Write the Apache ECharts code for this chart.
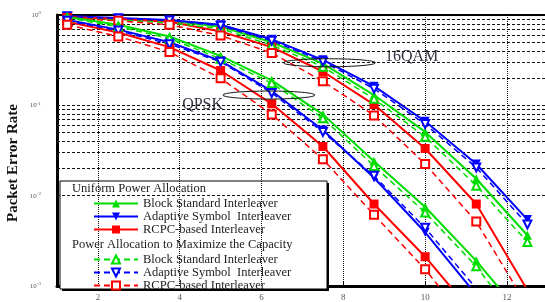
<!DOCTYPE html>
<html>
<head>
<meta charset="utf-8">
<script src="https://cdn.jsdelivr.net/npm/echarts@6/dist/echarts.min.js"></script>
<style>
html,body{margin:0;padding:0;background:#fff;}
#main{width:545px;height:302px;}
</style>
</head>
<body>
<div id="main"></div>
<script>
// SNR points (markers every 1.25)
var snr = [1.25, 2.5, 3.75, 5, 6.25, 7.5, 8.75, 10, 11.25, 12.5];

// 16QAM, uniform power allocation
var qamBlockUni = [0.951, 0.905, 0.862, 0.743, 0.499, 0.289, 0.130, 0.0508, 0.0154, 0.00365];
var qamAdaptUni = [0.975, 0.928, 0.883, 0.780, 0.538, 0.319, 0.163, 0.0667, 0.0224, 0.00543];
var qamRcpcUni  = [0.951, 0.905, 0.840, 0.656, 0.441, 0.237, 0.102, 0.0333, 0.00808, 0.0009];
// 16QAM, power allocation to maximize the capacity
var qamBlockMax = [0.928, 0.883, 0.820, 0.706, 0.463, 0.268, 0.118, 0.0449, 0.0129, 0.00307];
var qamAdaptMax = [0.960, 0.915, 0.870, 0.760, 0.520, 0.305, 0.153, 0.0620, 0.0205, 0.0048];
var qamRcpcMax  = [0.928, 0.862, 0.780, 0.593, 0.380, 0.185, 0.0774, 0.0224, 0.00516, 0.0006];

// QPSK, uniform power allocation
var qpskBlockUni = [0.951, 0.780, 0.579, 0.352, 0.189, 0.0794, 0.0241, 0.0075, 0.0019, 0.0004];
var qpskAdaptUni = [0.883, 0.689, 0.499, 0.311, 0.144, 0.0533, 0.0158, 0.00393, 0.0008, 0.00012];
var qpskRcpcUni  = [0.840, 0.640, 0.441, 0.243, 0.104, 0.0350, 0.00808, 0.00211, 0.00045, 0.00008];
// QPSK, power allocation to maximize the capacity
var qpskBlockMax = [0.928, 0.743, 0.551, 0.327, 0.176, 0.0719, 0.0213, 0.0065, 0.00165, 0.0003];
var qpskAdaptMax = [0.862, 0.672, 0.475, 0.303, 0.137, 0.0508, 0.0166, 0.0044, 0.00094, 0.0001];
var qpskRcpcMax  = [0.780, 0.579, 0.389, 0.199, 0.0794, 0.0253, 0.00615, 0.00153, 0.0003, 0.00005];

var xTicks = [2, 4, 6, 8, 10, 12];
var yGrid = [0.002, 0.003, 0.004, 0.005, 0.006, 0.007, 0.008, 0.009, 0.01,
             0.02, 0.03, 0.04, 0.05, 0.06, 0.07, 0.08, 0.09, 0.1,
             0.2, 0.3, 0.4, 0.5, 0.6, 0.7, 0.8, 0.9];

var namesUni = ['Uniform|Block Standard Interleaver', 'Uniform|Adaptive Symbol  Interleaver', 'Uniform|RCPC-based Interleaver'];
var namesMax = ['Max|Block Standard Interleaver', 'Max|Adaptive Symbol  Interleaver', 'Max|RCPC-based Interleaver'];

// annotation anchors (data coords)
var ellipses = [[7.66, 0.296], [6.18, 0.130]];
var labels = [['16QAM', 9.67, 0.344], ['QPSK', 4.56, 0.102]];

var GREEN = '#00dd00', BLUE = '#0000ff', RED = '#ff0000';

function pairs(vals){
	return snr.map(function(x, i){ return [x, vals[i]]; });
}
function curve(name, vals, color, symbol, rot, dashed){
	return {
		name: name,
		type: 'line',
		z: 5,
		data: pairs(vals),
		symbol: symbol,
		symbolSize: dashed ? 8 : 9,
		symbolRotate: rot,
		color: color,
		clip: true,
		lineStyle: {color: color, width: dashed ? 1.5 : 2, type: dashed ? [6, 4] : 'solid'},
		itemStyle: {color: color, borderColor: color, borderWidth: dashed ? 1.5 : 0},
		emphasis: {disabled: true},
		animation: false
	};
}

var series = [
	// 16QAM
	curve(namesUni[0], qamBlockUni, GREEN, 'triangle', 0, false),
	curve(namesUni[1], qamAdaptUni, BLUE, 'triangle', 180, false),
	curve(namesUni[2], qamRcpcUni, RED, 'rect', 0, false),
	curve(namesMax[0], qamBlockMax, GREEN, 'emptyTriangle', 0, true),
	curve(namesMax[1], qamAdaptMax, BLUE, 'emptyTriangle', 180, true),
	curve(namesMax[2], qamRcpcMax, RED, 'emptyRect', 0, true),
	// QPSK
	curve(namesUni[0], qpskBlockUni, GREEN, 'triangle', 0, false),
	curve(namesUni[1], qpskAdaptUni, BLUE, 'triangle', 180, false),
	curve(namesUni[2], qpskRcpcUni, RED, 'rect', 0, false),
	curve(namesMax[0], qpskBlockMax, GREEN, 'emptyTriangle', 0, true),
	curve(namesMax[1], qpskAdaptMax, BLUE, 'emptyTriangle', 180, true),
	curve(namesMax[2], qpskRcpcMax, RED, 'emptyRect', 0, true),
	// grid lines
	{
		name: 'hgrid', type: 'line', data: [], z: 1, silent: true,
		markLine: {
			silent: true, symbol: ['none', 'none'], animation: false,
			label: {show: false},
			lineStyle: {color: '#111', width: 1, type: [3, 2]},
			data: yGrid.map(function(v){ return {yAxis: v}; })
		}
	},
	{
		name: 'vgrid', type: 'line', data: [], z: 3, silent: true,
		markLine: {
			silent: true, symbol: ['none', 'none'], animation: false,
			label: {show: false},
			lineStyle: {color: '#111', width: 1, type: [1, 1]},
			data: xTicks.map(function(v){ return {xAxis: v}; })
		}
	}
];

var legendText = {fontFamily: 'Liberation Serif', fontSize: 12.5, color: '#222'};

var option = {
	animation: false,
	backgroundColor: '#fff',
	grid: {left: 57, top: 15, right: 0, bottom: 9},
	xAxis: [
		{
			type: 'value', min: 1, max: 12.93,
			axisLine: {lineStyle: {color: '#000', width: 3}},
			axisTick: {inside: true, length: 4, customValues: xTicks, lineStyle: {color: '#000'}},
			axisLabel: {customValues: xTicks, margin: 7, fontSize: 9, fontFamily: 'Liberation Serif', color: '#555'},
			splitLine: {show: false}
		},
		{
			type: 'value', min: 1, max: 12.93, position: 'top',
			axisLine: {lineStyle: {color: '#000', width: 2}},
			axisTick: {show: false}, axisLabel: {show: false}, splitLine: {show: false}
		}
	],
	yAxis: {
		type: 'log', logBase: 10, min: 0.001, max: 1,
		axisLine: {show: true, lineStyle: {color: '#000', width: 3}},
		axisTick: {show: false},
		splitLine: {show: false},
		axisLabel: {
			margin: 16,
			formatter: function(v){
				var e = Math.round(Math.log(v) / Math.LN10);
				return '{b|10}{s|' + e + '}';
			},
			rich: {
				b: {fontSize: 7, fontFamily: 'Liberation Serif', color: '#556'},
				s: {fontSize: 5, fontFamily: 'Liberation Serif', color: '#556', padding: [0, 0, 4, 0]}
			}
		}
	},
	legend: [
		{
			data: namesUni, orient: 'vertical', left: 88, top: 192, z: 8,
			itemWidth: 44, itemHeight: 10, itemGap: 0, selectedMode: false,
			formatter: function(n){ return n.split('|')[1]; },
			textStyle: legendText
		},
		{
			data: namesMax, orient: 'vertical', left: 88, top: 248, z: 8,
			itemWidth: 44, itemHeight: 10, itemGap: 0, selectedMode: false,
			formatter: function(n){ return n.split('|')[1]; },
			textStyle: legendText
		}
	],
	series: series
};

var chart = echarts.init(document.getElementById('main'));
chart.setOption(option);

function px(x, y){
	return chart.convertToPixel({gridIndex: 0}, [x, y]);
}

var elements = [
	// legend box with shadow
	{type: 'rect', z: 4, shape: {x: 62, y: 183, width: 267, height: 108}, style: {fill: '#000'}},
	{type: 'rect', z: 4, shape: {x: 60, y: 181, width: 267, height: 108}, style: {fill: '#fff', stroke: '#000', lineWidth: 1}},
	{type: 'text', z: 8, x: 72, y: 189, style: {text: 'Uniform Power Allocation', font: '12.5px "Liberation Serif"', fill: '#222', textVerticalAlign: 'middle'}},
	{type: 'text', z: 8, x: 72, y: 245, style: {text: 'Power Allocation to Maximize the Capacity', font: '12.5px "Liberation Serif"', fill: '#222', textVerticalAlign: 'middle'}},
	// y axis title
	{type: 'text', z: 8, x: 13, y: 163, rotation: Math.PI / 2, style: {text: 'Packet Error Rate', font: 'bold 15px "Liberation Serif"', fill: '#111', textAlign: 'center', textVerticalAlign: 'middle'}}
];
ellipses.forEach(function(e){
	var p = px(e[0], e[1]);
	elements.push({type: 'ellipse', z: 6, shape: {cx: p[0], cy: p[1], rx: 46, ry: 4}, style: {fill: 'none', stroke: '#111', lineWidth: 1}});
});
labels.forEach(function(l){
	var p = px(l[1], l[2]);
	elements.push({type: 'text', z: 2, x: p[0], y: p[1], style: {text: l[0], font: '16px "Liberation Serif"', fill: '#334', textAlign: 'center', textVerticalAlign: 'middle', backgroundColor: '#fff', padding: [5, 8]}});
});
chart.setOption({graphic: {elements: elements}});
</script>
</body>
</html>
